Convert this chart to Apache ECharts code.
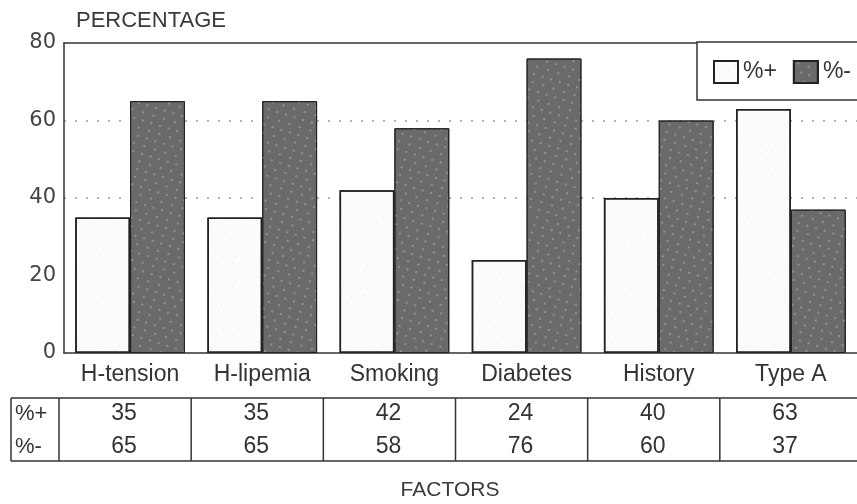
<!DOCTYPE html>
<html>
<head>
<meta charset="utf-8">
<script src="https://cdn.jsdelivr.net/npm/echarts@6/dist/echarts.min.js"></script>
<style>
html,body{margin:0;padding:0;background:#fff;}
#main{width:857px;height:504px;}
</style>
</head>
<body>
<div id="main"></div>
<script>
// ---- data ----
const categories = ['H-tension', 'H-lipemia', 'Smoking', 'Diabetes', 'History', 'Type A'];
const plusValues = [35, 35, 42, 24, 40, 63];
const minusValues = [65, 65, 58, 76, 60, 37];
const seriesNames = ['%+', '%-'];
const rowLabels = ['%+', '%-'];
const yAxisTitle = 'PERCENTAGE';
const xAxisTitle = 'FACTORS';

const chart = echarts.init(document.getElementById('main'), null, {renderer: 'canvas'});

const ink = '#333';
const option = {
  animation: false,
  backgroundColor: '#fff',
  textStyle: {fontFamily: 'Liberation Sans'},
  title: {
    text: yAxisTitle, left: 71, top: 5,
    textStyle: {fontSize: 22, fontWeight: 'normal', color: '#3a3a3a', fontFamily: 'Liberation Sans'}
  },
  legend: {
    data: seriesNames, left: 713, top: 60, icon: 'rect', orient: 'horizontal',
    padding: 0, itemWidth: 24, itemHeight: 22, itemGap: 16, z: 10,
    textStyle: {fontSize: 23, color: ink, fontFamily: 'Liberation Sans'}
  },
  grid: {left: 64, top: 43, width: 798, height: 310},
  xAxis: [{
    type: 'category', data: categories,
    axisLine: {lineStyle: {color: ink, width: 1.5}},
    axisTick: {show: false},
    axisLabel: {interval: 0, margin: 10, fontSize: 23, color: ink, fontFamily: 'Liberation Sans'}
  }, {
    type: 'category', data: categories, position: 'top',
    axisLine: {show: true, lineStyle: {color: ink, width: 1.5}},
    axisTick: {show: false}, axisLabel: {show: false}
  }],
  yAxis: {
    type: 'value', min: 0, max: 80, interval: 20,
    axisLine: {show: true, lineStyle: {color: ink, width: 1.5}},
    axisTick: {show: false},
    splitLine: {show: true, lineStyle: {type: [2, 9], width: 1.5,
      color: ['rgba(0,0,0,0)', 'rgba(0,0,0,0)', '#999', '#999', 'rgba(0,0,0,0)']}},
    axisLabel: {margin: 8, fontSize: 21, color: '#444', fontFamily: 'DejaVu Sans'}
  },
  series: [{
    name: seriesNames[0], type: 'bar', data: plusValues, xAxisIndex: 0,
    barGap: '0%', barCategoryGap: '17%',
    itemStyle: {
      color: '#fbfbfb', borderColor: '#222', borderWidth: 1.5,
      decal: {symbol: 'circle', symbolSize: 0.6, color: 'rgba(30,30,30,0.45)',
        dashArrayX: [[1, 9], [0, 5, 1, 6]], dashArrayY: [1, 6], rotation: 0.5}
    }
  }, {
    name: seriesNames[1], type: 'bar', data: minusValues, xAxisIndex: 0,
    barGap: '0%', barCategoryGap: '17%',
    itemStyle: {
      color: '#6a6a6a', borderColor: '#222', borderWidth: 1,
      decal: {symbol: 'circle', symbolSize: 0.8, color: 'rgba(255,255,255,0.6)',
        dashArrayX: [[2, 7], [0, 4, 2, 5]], dashArrayY: [2, 6], rotation: 0.3}
    }
  }]
};
chart.setOption(option);

// ---- table + annotations (positions from the category axis) ----
const centers = categories.map(c => chart.convertToPixel({xAxisIndex: 0}, c));
const band = centers[1] - centers[0];
const tableTop = 398, tableBottom = 461, row1 = 414, row2 = 447;
const els = [];
els.push({type: 'rect', z: 5, shape: {x: 697, y: 42, width: 200, height: 58},
  style: {fill: '#fff', stroke: ink, lineWidth: 1.5}});
els.push({type: 'line', shape: {x1: 11, y1: tableTop, x2: 860, y2: tableTop}, style: {stroke: ink, lineWidth: 1.5}});
els.push({type: 'line', shape: {x1: 11, y1: tableBottom, x2: 860, y2: tableBottom}, style: {stroke: ink, lineWidth: 1.5}});
els.push({type: 'line', shape: {x1: 11, y1: tableTop, x2: 11, y2: tableBottom}, style: {stroke: ink, lineWidth: 1.5}});
centers.forEach((cx, i) => {
  const lx = cx - band / 2 - 5;
  els.push({type: 'line', shape: {x1: lx, y1: tableTop, x2: lx, y2: tableBottom}, style: {stroke: ink, lineWidth: 1.5}});
  els.push({type: 'text', x: cx - 6, y: row1, style: {text: String(plusValues[i]), fontSize: 23,
    fontFamily: 'Liberation Sans', fill: ink, align: 'center', verticalAlign: 'middle'}});
  els.push({type: 'text', x: cx - 6, y: row2, style: {text: String(minusValues[i]), fontSize: 23,
    fontFamily: 'Liberation Sans', fill: ink, align: 'center', verticalAlign: 'middle'}});
});
[row1, row2].forEach((ry, k) => {
  els.push({type: 'text', x: 15, y: ry, style: {text: rowLabels[k], fontSize: 22,
    fontFamily: 'Liberation Sans', fill: ink, align: 'left', verticalAlign: 'middle'}});
});
els.push({type: 'text', x: 450, y: 490, style: {text: xAxisTitle, fontSize: 21,
  fontFamily: 'Liberation Sans', fill: '#3a3a3a', align: 'center', verticalAlign: 'middle'}});
chart.setOption({graphic: {elements: els}});
</script>
</body>
</html>
